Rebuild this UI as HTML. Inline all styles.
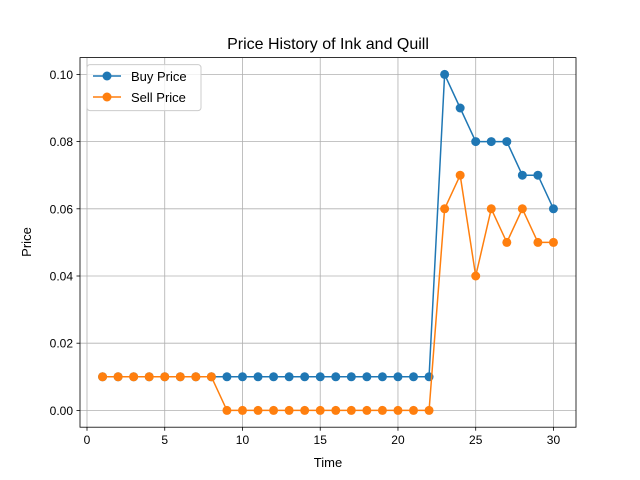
<!DOCTYPE html>
<html><head><meta charset="utf-8"><style>
body{margin:0;background:#fff;}
svg{display:block;font-family:"Liberation Sans","DejaVu Sans",sans-serif;}
</style></head><body>
<svg id="chart" width="640" height="480" viewBox="0 0 640 480">
<rect x="0" y="0" width="640" height="480" fill="#fff"/>
<text x="328" y="49" text-anchor="middle" font-size="16">Price History of Ink and Quill</text>
<g id="grid"></g>
<g id="series"></g>
<rect x="80" y="57.6" width="496" height="369.6" fill="none" stroke="#000" stroke-width="0.8"/>
<g id="ticks"></g>
<text x="328" y="467" text-anchor="middle" font-size="13">Time</text>
<text transform="translate(31,242) rotate(-90)" text-anchor="middle" font-size="13">Price</text>
<g>
<rect x="87" y="64.6" width="114" height="46" fill="#fff" fill-opacity="0.8" stroke="#ccc" rx="3"/>
<g>
<line x1="93" y1="76" x2="121" y2="76" stroke="#1f77b4" stroke-width="1.5"/><circle cx="107" cy="76" r="4.5" fill="#1f77b4"/>
<text x="131" y="81" font-size="13">Buy Price</text></g>
<g>
<line x1="93" y1="97" x2="121" y2="97" stroke="#ff7f0e" stroke-width="1.5"/><circle cx="107" cy="97" r="4.5" fill="#ff7f0e"/>
<text x="131" y="102" font-size="13">Sell Price</text></g>
</g>
</svg>
<script>
const times=[1,2,3,4,5,6,7,8,9,10,11,12,13,14,15,16,17,18,19,20,21,22,23,24,25,26,27,28,29,30];
const buyPrice=[0.01,0.01,0.01,0.01,0.01,0.01,0.01,0.01,0.01,0.01,0.01,0.01,0.01,0.01,0.01,0.01,0.01,0.01,0.01,0.01,0.01,0.01,0.10,0.09,0.08,0.08,0.08,0.07,0.07,0.06];
const sellPrice=[0.01,0.01,0.01,0.01,0.01,0.01,0.01,0.01,0,0,0,0,0,0,0,0,0,0,0,0,0,0,0.06,0.07,0.04,0.06,0.05,0.06,0.05,0.05];
const xTicks=[0,5,10,15,20,25,30];
const yTicks=[0,0.02,0.04,0.06,0.08,0.10];
const yTickLabels=["0.00","0.02","0.04","0.06","0.08","0.10"];
const NS="http://www.w3.org/2000/svg";
const L=80,R=576,T=57.6,B=427.2;
const xmin=-0.45,xmax=31.45,ymin=-0.005,ymax=0.105;
function sx(v){return L+(v-xmin)/(xmax-xmin)*(R-L);}
function sy(v){return B-(v-ymin)/(ymax-ymin)*(B-T);}
function mk(tag,attrs,parent){const e=document.createElementNS(NS,tag);for(const k in attrs)e.setAttribute(k,attrs[k]);parent.appendChild(e);return e;}
const grid=document.getElementById('grid'),ticks=document.getElementById('ticks'),series=document.getElementById('series');
xTicks.forEach(t=>{const x=sx(t);
const g=mk('line',{x1:x,x2:x,y1:T,y2:B,stroke:'#b0b0b0','stroke-width':0.8},grid);


mk('line',{x1:x,x2:x,y1:B,y2:B+3.5,stroke:'#000','stroke-width':0.8},ticks);
const tx=mk('text',{x:x,y:B+17,'text-anchor':'middle','font-size':12},ticks);tx.textContent=t;

});
yTicks.forEach((t,i)=>{const y=sy(t);
const g=mk('line',{x1:L,x2:R,y1:y,y2:y,stroke:'#b0b0b0','stroke-width':0.8},grid);


mk('line',{x1:L-3.5,x2:L,y1:y,y2:y,stroke:'#000','stroke-width':0.8},ticks);
const tx=mk('text',{x:L-7,y:y+4.5,'text-anchor':'end','font-size':12},ticks);tx.textContent=yTickLabels[i];

});
function draw(vals,color,name){
const pts=times.map((t,i)=>sx(t)+','+sy(vals[i])).join(' ');
const pl=mk('polyline',{points:pts,fill:'none',stroke:color,'stroke-width':1.5},series);


times.forEach((t,i)=>{const c=mk('circle',{cx:sx(t),cy:sy(vals[i]),r:4.5,fill:color},series);

});}
draw(buyPrice,'#1f77b4','buy-price');
draw(sellPrice,'#ff7f0e','sell-price');
</script>
</body></html>
